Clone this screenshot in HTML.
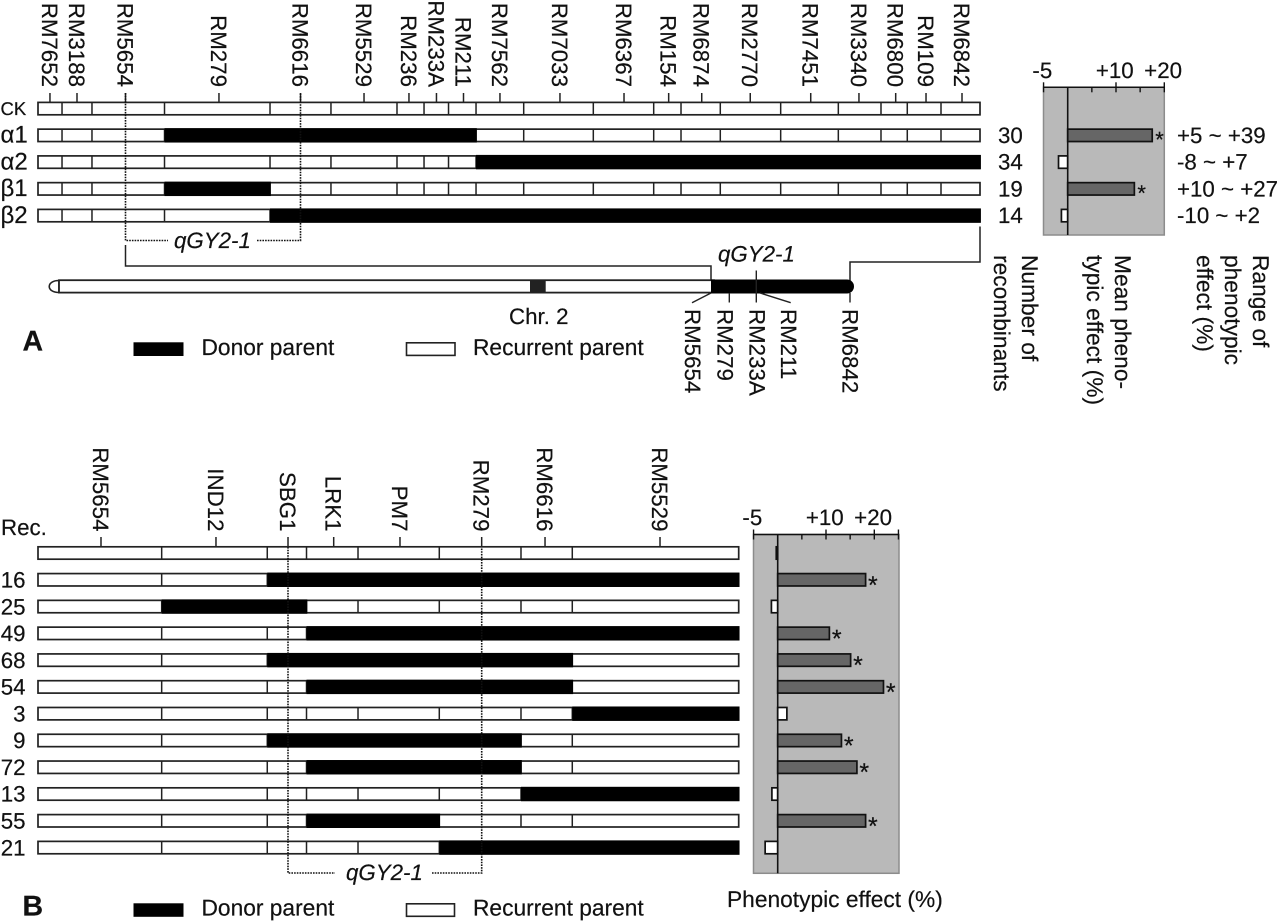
<!DOCTYPE html>
<html lang="en">
<head>
<meta charset="utf-8">
<title>qGY2-1 substitution mapping</title>
<style>
html,body{margin:0;padding:0;background:#fff;}
svg{display:block;}
text{font-family:"Liberation Sans",sans-serif;font-size:22.3px;fill:#111;stroke:#111;stroke-width:0.2px;text-rendering:geometricPrecision;}
text.w{font-size:22.75px;}
</style>
</head>
<body>
<svg id="fig" xmlns="http://www.w3.org/2000/svg" width="1280" height="921" viewBox="0 0 1280 921">
  <rect x="0" y="0" width="1280" height="921" fill="#fff"/>

  <g id="panelA"></g>
  <g id="panelB"></g>

  <!-- Panel A static annotation -->
  <g>
    <path d="M125.5 93V240.5H168M257 240.5H300.5V93" fill="none" stroke="#111" stroke-width="1.6" stroke-dasharray="1.6 1.1"/>
    <text x="174" y="248" font-style="italic">qGY2-1</text>
    <path d="M125.5 245V266H711V281" fill="none" stroke="#222" stroke-width="1.5"/>
    <path d="M850 281V262H980V226.5" fill="none" stroke="#222" stroke-width="1.5"/>

    <path d="M59 280.5C46 280.5 46 292.5 59 292.5Z" fill="#fff" stroke="#222" stroke-width="1.6"/>
    <rect x="59" y="280.2" width="655" height="12.4" fill="#fff" stroke="#222" stroke-width="1.8"/>
    <rect x="530" y="279.5" width="15.7" height="14" fill="#222"/>
    <path d="M711 279.5H847A7 7 0 0 1 847 293.5H711Z" fill="#000"/>
    <text x="509" y="324">Chr. 2</text>
    <text x="718" y="261.5" font-style="italic">qGY2-1</text>

    <path d="M711 293L692 302.7M729.3 293V302.5M756.3 270.5V302.5M760 293L790.7 302.7M850 293V302.5" fill="none" stroke="#222" stroke-width="1.4"/>
    <text transform="rotate(90 685 309)" x="685" y="309">RM5654</text>
    <text transform="rotate(90 717.3 309)" x="717.3" y="309">RM279</text>
    <text transform="rotate(90 749.3 309)" x="749.3" y="309">RM233A</text>
    <text transform="rotate(90 781 309)" x="781" y="309">RM211</text>
    <text transform="rotate(90 842.7 309)" x="842.7" y="309">RM6842</text>

    <text x="22.5" y="350.5" font-weight="bold" style="font-size:28.5px">A</text>
    <rect x="133.5" y="342.3" width="50" height="13.7" fill="#000"/>
    <text class="w" x="201.5" y="355">Donor parent</text>
    <rect x="406.5" y="342.8" width="48.5" height="12.6" fill="#fff" stroke="#222" stroke-width="1.6"/>
    <text class="w" x="473" y="355">Recurrent parent</text>

    <text class="w" transform="rotate(90 1022 255)" x="1022" y="255">Number of</text>
    <text class="w" transform="rotate(90 994 255)" x="994" y="255">recombinants</text>
    <text class="w" transform="rotate(90 1115 255)" x="1115" y="255">Mean pheno-</text>
    <text class="w" transform="rotate(90 1087 255)" x="1087" y="255">typic effect (%)</text>
    <text class="w" transform="rotate(90 1253 255)" x="1253" y="255">Range of</text>
    <text class="w" transform="rotate(90 1225 255)" x="1225" y="255">phenotypic</text>
    <text class="w" transform="rotate(90 1197 255)" x="1197" y="255">effect (%)</text>
  </g>

  <!-- Panel B static annotation -->
  <g>
    <text x="1" y="535">Rec.</text>
    <path d="M288 547V873H335M432 873H481.7V547" fill="none" stroke="#111" stroke-width="1.6" stroke-dasharray="1.6 1.1"/>
    <text x="346" y="880" font-style="italic">qGY2-1</text>
    <text class="w" x="727" y="907">Phenotypic effect (%)</text>
    <text x="22.5" y="915.5" font-weight="bold" style="font-size:28.5px">B</text>
    <rect x="133.5" y="903.3" width="50" height="13.5" fill="#000"/>
    <text class="w" x="201.5" y="915.5">Donor parent</text>
    <rect x="406.5" y="903.8" width="48" height="12.5" fill="#fff" stroke="#222" stroke-width="1.6"/>
    <text class="w" x="473" y="915.5">Recurrent parent</text>
  </g>
</svg>

<script>
/* ---------- Panel A data ---------- */
const markerNamesA = ['RM7652','RM3188','RM5654','RM279','RM6616','RM5529','RM236','RM233A','RM211','RM7562','RM7033','RM6367','RM154','RM6874','RM2770','RM7451','RM3340','RM6800','RM109','RM6842'];
/* marker map positions, % of the region */
const markerMapA = [1.27,4.14,9.29,19.21,27.87,34.61,39.38,42.30,45.17,49.04,55.41,62.21,66.95,70.46,75.61,82.03,87.15,91.05,94.27,98.09];
/* segment boundaries, % of the region */
const breakMapA = [0,2.55,5.73,13.43,24.63,31.10,38.11,40.98,43.58,46.50,51.56,58.95,65.36,68.26,72.43,78.84,84.96,89.49,92.28,95.86,100];
const rowNamesA = ['CK','α1','α2','β1','β2'];
/* donor segment as [first boundary index, last boundary index] */
const donorSpansA = [null,[3,9],[9,20],[3,4],[4,20]];
const recombinantCountsA = ['','30','34','19','14'];
const effectRangesA = ['','+5 ~ +39','-8 ~ +7','+10 ~ +27','-10 ~ +2'];
const effectRowsA = ['α1','α2','β1','β2'];
const effectValuesA = [17.5,-1.9,13.8,-1.3];
const effectSignificantA = [true,false,true,false];
const effectTicksA = [-5,0,5,10,15,20];
const effectTickLabelsA = ['-5','','','+10','','+20'];

/* ---------- Panel B data ---------- */
const markerNamesB = ['RM5654','IND12','SBG1','LRK1','PM7','RM279','RM6616','RM5529'];
const markerMapB = [8.99,25.40,35.68,42.20,51.66,63.32,72.36,88.77];
const breakMapB = [0,17.65,32.72,38.32,45.67,57.27,68.93,76.25,100];
const rowNamesB = ['','16','25','49','68','54','3','9','72','13','55','21'];
const donorSpansB = [null,[2,8],[1,3],[3,8],[2,7],[3,7],[7,8],[2,6],[3,6],[6,8],[3,5],[5,8]];
const effectValuesB = [-0.3,18.2,-1.3,10.7,15.1,21.9,1.9,13.2,16.4,-1.2,18.2,-2.6];
const effectSignificantB = [false,true,false,true,true,true,false,true,true,false,true,false];
const effectTicksB = [-5,0,5,10,15,20,25];
const effectTickLabelsB = ['-5','','','+10','','+20',''];

const SVGNS = 'http://www.w3.org/2000/svg';
function make(parent, tag, attrs, content) {
  const node = document.createElementNS(SVGNS, tag);
  for (const k in attrs) node.setAttribute(k, attrs[k]);
  if (content !== undefined) node.textContent = content;
  parent.appendChild(node);
  return node;
}
function slug(s) {
  return String(s).toLowerCase().replace(/α/g,'alpha').replace(/β/g,'beta').replace(/[^a-z0-9]+/g,'-') || 'control';
}

/* Axis functions */
const mapXA = p => 38 + p * 9.42;
const mapXB = p => 38 + p * 7.007;
const rowYA = i => 108.6 + i * 26.75;
const rowYB = i => 553 + i * 26.78;
const effectXA = v => 1067.7 + v * 4.83;
const effectXB = v => 777.7 + v * 4.83;
const ROW_H = 12.4;

function drawRows(group, prefix, names, breaks, spans, mapX, rowY) {
  names.forEach(function (name, i) {
    const cy = rowY(i);
    const x0 = mapX(breaks[0]);
    const x1 = mapX(breaks[breaks.length - 1]);
    const label = slug(name) + '-' + i;
    const bar = make(group, 'rect', {x:x0, y:cy - ROW_H/2, width:x1 - x0, height:ROW_H, fill:'#fff', stroke:'#222', 'stroke-width':1.7});
    
    
    breaks.slice(1, -1).forEach(function (b) {
      const d = make(group, 'line', {x1:mapX(b), x2:mapX(b), y1:cy - ROW_H/2, y2:cy + ROW_H/2, stroke:'#222', 'stroke-width':1.5});
      
      
    });
    if (spans[i]) {
      const a = mapX(breaks[spans[i][0]]);
      const b = mapX(breaks[spans[i][1]]);
      const donor = make(group, 'rect', {x:a, y:cy - ROW_H/2 - 1, width:b - a + 0.8, height:ROW_H + 2, fill:'#000'});
      
      
    }
  });
}

function drawMarkers(group, prefix, names, positions, mapX, tickTop, tickBottom, labelEnd) {
  names.forEach(function (name, i) {
    const x = mapX(positions[i]);
    const t = make(group, 'line', {x1:x, x2:x, y1:tickTop, y2:tickBottom, stroke:'#222', 'stroke-width':1.5});
    
    
    const lx = x - 8;
    const l = make(group, 'text', {x:lx, y:labelEnd, 'text-anchor':'end', transform:'rotate(90 ' + lx + ' ' + labelEnd + ')'}, name);
    
    
  });
}

function drawEffectAxis(group, prefix, box, scale, ticks, tickLabels) {
  const bg = make(group, 'rect', {x:box.x0, y:box.y0, width:box.x1 - box.x0, height:box.y1 - box.y0, fill:'#b9b9b9', stroke:'#8c8c8c', 'stroke-width':1.5});
  
  
  const axis = make(group, 'line', {x1:box.x0, x2:box.x1, y1:box.y0, y2:box.y0, stroke:'#111', 'stroke-width':1.5});
  
  
  ticks.forEach(function (v, i) {
    const major = tickLabels[i] !== '' || i === ticks.length - 1;
    const x = scale(v);
    const t = make(group, 'line', {x1:x, x2:x, y1:major ? box.y0 - 5 : box.y0, y2:box.y0 + 5, stroke:'#111', 'stroke-width':1.4});
    
    
    if (tickLabels[i] !== '') {
      const l = make(group, 'text', {x:x - 1.2, y:box.y0 - 9.5, 'text-anchor':'middle'}, tickLabels[i]);
      
      
    }
  });
}

function drawEffectBars(group, prefix, values, significant, scale, rowY, firstRow, starSize) {
  values.forEach(function (v, i) {
    const cy = rowY(i + firstRow);
    const x0 = Math.min(scale(0), scale(v));
    const w = Math.abs(scale(v) - scale(0));
    const bar = make(group, 'rect', {x:x0, y:cy - ROW_H/2, width:w, height:ROW_H, fill: significant[i] ? '#666' : '#fff', stroke:'#111', 'stroke-width':1.7});
    
    
    if (significant[i]) {
      const s = make(group, 'text', {x:scale(v) + 7.3, y:cy + starSize * 0.54, 'text-anchor':'middle', style:'font-size:' + starSize + 'px'}, '*');
      
      
    }
  });
}

function drawZeroLine(group, prefix, box, scale) {
  const z = make(group, 'line', {x1:scale(0), x2:scale(0), y1:box.y0, y2:box.y1, stroke:'#111', 'stroke-width':1.6});
  
  
}

/* ---------- Render panel A ---------- */
const gA = document.getElementById('panelA');
drawMarkers(gA, 'a', markerNamesA, markerMapA, mapXA, 93, 102, 87);
drawRows(gA, 'a', rowNamesA, breakMapA, donorSpansA, mapXA, rowYA);
rowNamesA.forEach(function (name, i) {
  const isCK = name === 'CK';
  const l = make(gA, 'text', {x:0.5, y:rowYA(i) + (isCK ? 6.4 : 7.2), style: isCK ? 'font-size:18.5px' : 'font-size:24px'}, name);
  
  
  if (recombinantCountsA[i] !== '') {
    const c = make(gA, 'text', {x:998, y:rowYA(i) + 7.5}, recombinantCountsA[i]);
    
    
    const r = make(gA, 'text', {x:1177, y:rowYA(i) + 7.5}, effectRangesA[i]);
    
    
  }
});
const boxA = {x0:1043.5, x1:1164.3, y0:87.3, y1:235};
drawEffectAxis(gA, 'a', boxA, effectXA, effectTicksA, effectTickLabelsA);
drawEffectBars(gA, 'a', effectValuesA, effectSignificantA, effectXA, rowYA, 1, 22);
drawZeroLine(gA, 'a', boxA, effectXA);

/* ---------- Render panel B ---------- */
const gB = document.getElementById('panelB');
drawMarkers(gB, 'b', markerNamesB, markerMapB, mapXB, 537, 547, 531.5);
drawRows(gB, 'b', rowNamesB, breakMapB, donorSpansB, mapXB, rowYB);
rowNamesB.forEach(function (name, i) {
  if (name === '') return;
  const l = make(gB, 'text', {x:25.5, y:rowYB(i) + 7.7, 'text-anchor':'end'}, name);
  
  
});
const boxB = {x0:753.5, x1:899, y0:534.5, y1:873.3};
drawEffectAxis(gB, 'b', boxB, effectXB, effectTicksB, effectTickLabelsB);
drawEffectBars(gB, 'b', effectValuesB, effectSignificantB, effectXB, rowYB, 0, 25);
drawZeroLine(gB, 'b', boxB, effectXB);
</script>
</body>
</html>
